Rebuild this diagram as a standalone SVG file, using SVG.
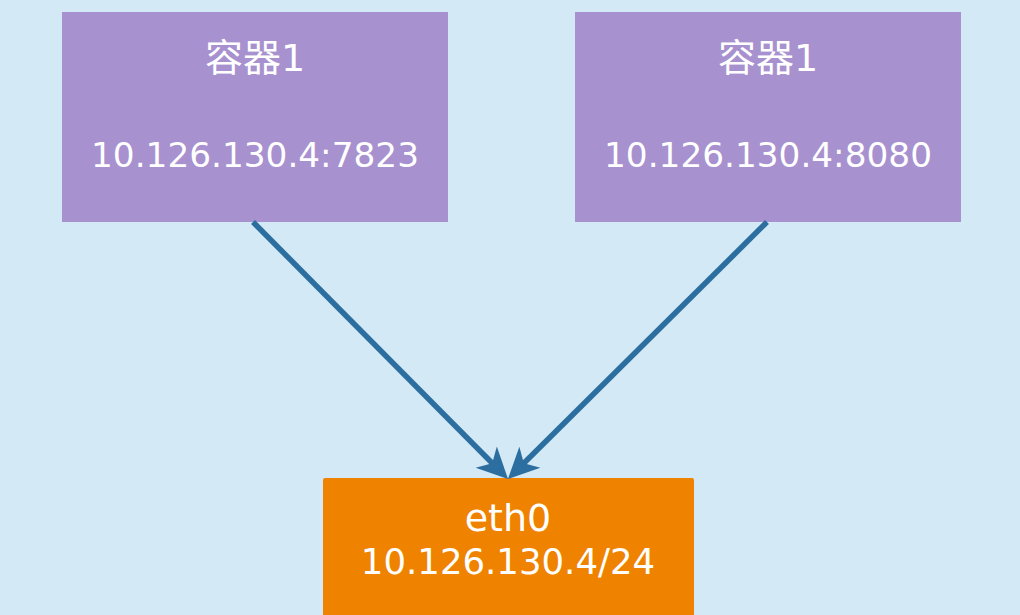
<svg xmlns="http://www.w3.org/2000/svg" width="1020" height="615" viewBox="0 0 1020 615">
<style>
.box-p{fill:#a891cf}
.box-o{fill:#ef8300}
.t{fill:#ffffff;font-family:"DejaVu Sans","Noto Sans CJK SC",sans-serif;text-anchor:middle}
.conn{stroke:#2b6e9f;stroke-width:5.5;fill:none}
</style>
<defs>
<marker id="ah" markerUnits="userSpaceOnUse" markerWidth="32" markerHeight="32" viewBox="0 0 30 28" refX="17" refY="14" orient="auto">
<path d="M0 0 L29 14 L0 28 L8 14 Z" fill="#2b6e9f"/>
</marker>
</defs>
<rect width="1020" height="615" fill="#d3e9f5"/>
<g id="node-container1">
<rect class="box-p" x="62" y="12" width="386" height="210"/>
<text class="t" x="255" y="71" font-size="38">容器1</text>
<text class="t" x="255" y="167" font-size="34.3">10.126.130.4:7823</text>
</g>
<g id="node-container2">
<rect class="box-p" x="575" y="12" width="386" height="210"/>
<text class="t" x="768" y="71" font-size="38">容器1</text>
<text class="t" x="768" y="167" font-size="34.3">10.126.130.4:8080</text>
</g>
<g id="node-eth0">
<rect class="box-o" x="323" y="478" width="371" height="145" rx="2"/>
<text class="t" x="508" y="531" font-size="38">eth0</text>
<text class="t" x="508" y="574" font-size="35.5">10.126.130.4/24</text>
</g>
<g id="connectors">
<line class="conn" x1="253" y1="222" x2="499" y2="470" marker-end="url(#ah)"/>
<line class="conn" x1="767" y1="222" x2="517" y2="470" marker-end="url(#ah)"/>
</g>
</svg>
